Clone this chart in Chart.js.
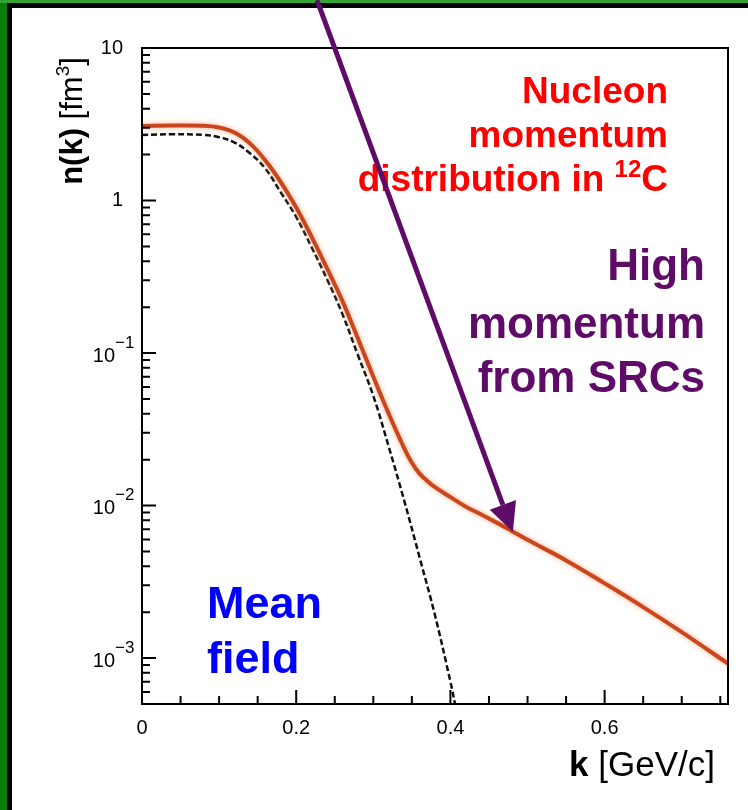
<!DOCTYPE html>
<html>
<head>
<meta charset="utf-8">
<title>n(k) 12C</title>
<script src="https://cdn.jsdelivr.net/npm/chart.js@4.4.0/dist/chart.umd.min.js"></script>
<style>
  html, body { margin: 0; padding: 0; background: #fff; }
  #grafico { display: block; }
</style>
</head>
<body>
<canvas id="grafico" width="748" height="810"></canvas>
<script>
// Distribuição total n(k) em 12C (linha laranja)
const kTotal = [0, 0.04, 0.08, 0.10, 0.12, 0.14, 0.16, 0.18, 0.20, 0.22, 0.24, 0.26, 0.28, 0.30,
                0.32, 0.34, 0.35, 0.36, 0.37, 0.38, 0.40, 0.42, 0.44, 0.46, 0.48, 0.50, 0.55,
                0.60, 0.65, 0.70, 0.76];
const nTotal = [3.08, 3.10, 3.09, 3.01, 2.79, 2.37, 1.83, 1.32, 0.90, 0.578, 0.359, 0.219, 0.1245, 0.070,
                0.0400, 0.0238, 0.0191, 0.0162, 0.0145, 0.0132, 0.01135, 0.00984, 0.00875, 0.00773,
                0.00679, 0.00596, 0.00437, 0.00309, 0.00216, 0.00148, 0.00092];

// Campo médio (tracejada)
const kCampo = [0, 0.04, 0.08, 0.10, 0.12, 0.14, 0.16, 0.18, 0.20, 0.22, 0.24, 0.26, 0.28, 0.30,
                0.32, 0.34, 0.36, 0.38, 0.40, 0.406];
const nCampo = [2.69, 2.72, 2.69, 2.60, 2.40, 2.04, 1.62, 1.13, 0.78, 0.494, 0.305, 0.180, 0.097, 0.0524,
                0.0243, 0.0108, 0.00457, 0.00191, 0.00070, 0.00050];

// Eixos
const kMax = 0.76;
const kMajor = [0, 0.2, 0.4, 0.6];
const kRotulos = ['0', '0.2', '0.4', '0.6'];
const nMin = 5e-4, nMax = 10;
const decadas = [1, 0, -1, -2, -3];
const rotulosDecada = ['10', '1', '10|−1', '10|−2', '10|−3'];

// Seta: da borda superior até a cauda de alto momento
const setaInicio = { k: 0.227, n: 20.6 };
const setaFim = { k: 0.481, n: 0.0067 };

const FONTE = "'Liberation Sans', Arial, Helvetica, sans-serif";
const ROXO = '#5e0c68';

function fonte(peso, tam) { return `${peso} ${tam}px ${FONTE}`; }

// desenha trechos de texto em sequência (para expoentes)
function textoComposto(ctx, trechos, x, y, alinhamento) {
  let total = 0;
  trechos.forEach(t => { ctx.font = t.f; total += ctx.measureText(t.t).width; });
  let px = x;
  if (alinhamento === 'right') px = x - total;
  else if (alinhamento === 'center') px = x - total / 2;
  ctx.textAlign = 'left';
  ctx.textBaseline = 'alphabetic';
  trechos.forEach(t => {
    ctx.font = t.f;
    ctx.fillText(t.t, px, y + (t.dy || 0));
    px += ctx.measureText(t.t).width;
  });
}

const moldura = {
  id: 'moldura',
  beforeDraw(chart) {
    const ctx = chart.ctx;
    ctx.save();
    ctx.fillStyle = '#fff';
    ctx.fillRect(0, 0, chart.width, chart.height);
    ctx.fillStyle = '#0c7c0c';
    ctx.fillRect(0, 0, 7, chart.height);
    ctx.fillStyle = '#34a532';
    ctx.fillRect(0, 0, chart.width, 3);
    ctx.fillStyle = '#000';
    ctx.fillRect(7, 3, 5, chart.height - 3);
    ctx.fillRect(7, 3, chart.width - 7, 5);
    ctx.restore();
  },
  afterDatasetsDraw(chart) {
    const ctx = chart.ctx;
    const a = chart.chartArea;
    const xs = chart.scales.x, ys = chart.scales.y;
    ctx.save();

    // caixa do gráfico
    ctx.strokeStyle = '#000';
    ctx.lineWidth = 2;
    ctx.strokeRect(a.left, a.top, a.right - a.left, a.bottom - a.top);

    // marcas do eixo y (log): décadas longas, 2..9 curtas
    ctx.beginPath();
    for (let e = -4; e <= 1; e++) {
      for (let m = 1; m <= 9; m++) {
        const v = m * Math.pow(10, e);
        if (v < nMin * 0.999 || v > nMax * 1.001) continue;
        const py = ys.getPixelForValue(v);
        ctx.moveTo(a.left, py);
        ctx.lineTo(a.left + (m === 1 ? 14 : 8), py);
      }
    }
    // marcas do eixo x a cada 0.05
    for (let i = 0; i * 0.05 <= kMax + 1e-9; i++) {
      const px = xs.getPixelForValue(i * 0.05);
      ctx.moveTo(px, a.bottom);
      ctx.lineTo(px, a.bottom - (i % 4 === 0 ? 14 : 8));
    }
    ctx.stroke();

    // rótulos do eixo y
    ctx.fillStyle = '#000';
    decadas.forEach((e, i) => {
      const py = ys.getPixelForValue(Math.pow(10, e));
      const partes = rotulosDecada[i].split('|');
      ctx.font = fonte('normal', 20);
      ctx.textAlign = 'right';
      ctx.textBaseline = 'middle';
      if (partes.length === 1) {
        ctx.fillText(partes[0], a.left - 19, py);
      } else {
        ctx.fillText(partes[0], a.left - 27, py + 3);
        ctx.font = fonte('normal', 17);
        ctx.textAlign = 'left';
        ctx.fillText(partes[1], a.left - 27, py - 10);
      }
    });

    // título do eixo y
    ctx.save();
    ctx.translate(82, 121);
    ctx.rotate(-Math.PI / 2);
    textoComposto(ctx, [
      { t: 'n(k)', f: fonte('bold', 31) },
      { t: ' [fm', f: fonte('normal', 31) },
      { t: '3', f: fonte('normal', 19), dy: -13 },
      { t: ']', f: fonte('normal', 31) }
    ], 0, 0, 'center');
    ctx.restore();

    // título do eixo x
    textoComposto(ctx, [
      { t: 'k', f: fonte('bold', 35) },
      { t: ' [GeV/c]', f: fonte('normal', 35) }
    ], 715, 776, 'right');

    // textos explicativos
    ctx.fillStyle = '#ff0000';
    ctx.font = fonte('bold', 37);
    ctx.textAlign = 'right';
    ctx.fillText('Nucleon', 668, 103);
    ctx.fillText('momentum', 668, 147);
    textoComposto(ctx, [
      { t: 'distribution in ', f: fonte('bold', 37) },
      { t: '12', f: fonte('bold', 24), dy: -14 },
      { t: 'C', f: fonte('bold', 37) }
    ], 668, 191, 'right');

    ctx.fillStyle = ROXO;
    ctx.font = fonte('bold', 44);
    ctx.textAlign = 'right';
    ctx.fillText('High', 705, 280);
    ctx.fillText('momentum', 705, 338);
    ctx.fillText('from SRCs', 705, 392);

    ctx.fillStyle = '#0000ff';
    ctx.font = fonte('bold', 45);
    ctx.textAlign = 'left';
    ctx.fillText('Mean', 207, 618);
    ctx.fillText('field', 207, 673);

    ctx.restore();
  },
  afterDraw(chart) {
    const ctx = chart.ctx;
    const xs = chart.scales.x, ys = chart.scales.y;
    const x0 = xs.getPixelForValue(setaInicio.k), y0 = ys.getPixelForValue(setaInicio.n);
    const x1 = xs.getPixelForValue(setaFim.k), y1 = ys.getPixelForValue(setaFim.n);
    const ang = Math.atan2(y1 - y0, x1 - x0);
    const comp = 29, meia = 14;
    const bx = x1 - comp * Math.cos(ang), by = y1 - comp * Math.sin(ang);
    ctx.save();
    ctx.strokeStyle = ROXO;
    ctx.fillStyle = ROXO;
    ctx.lineWidth = 5;
    ctx.beginPath();
    ctx.moveTo(x0, y0);
    ctx.lineTo(bx, by);
    ctx.stroke();
    ctx.beginPath();
    ctx.moveTo(x1, y1);
    ctx.lineTo(bx + meia * Math.sin(ang), by - meia * Math.cos(ang));
    ctx.lineTo(bx - meia * Math.sin(ang), by + meia * Math.cos(ang));
    ctx.closePath();
    ctx.fill();
    ctx.restore();
  }
};

// brilho suave em volta da curva total
const brilho = {
  id: 'brilho',
  beforeDatasetDraw(chart, args) {
    if (args.index !== 0) return;
    chart.ctx.save();
    chart.ctx.shadowColor = 'rgba(245, 150, 100, 0.8)';
    chart.ctx.shadowBlur = 5;
  },
  afterDatasetDraw(chart, args) {
    if (args.index !== 0) return;
    chart.ctx.restore();
  }
};

const ctx = document.getElementById('grafico').getContext('2d');
new Chart(ctx, {
  type: 'line',
  data: {
    datasets: [
      {
        label: 'n(k)',
        data: kTotal.map((k, i) => ({ x: k, y: nTotal[i] })),
        borderColor: '#c9461e',
        borderWidth: 4,
        pointRadius: 0,
        tension: 0.4,
        fill: false
      },
      {
        label: 'Mean field',
        data: kCampo.map((k, i) => ({ x: k, y: nCampo[i] })),
        borderColor: '#111',
        borderWidth: 2.5,
        borderDash: [6, 3],
        pointRadius: 0,
        tension: 0.4,
        fill: false
      }
    ]
  },
  options: {
    responsive: false,
    animation: false,
    devicePixelRatio: 1,
    layout: { padding: { left: 0, top: 48, right: 20, bottom: 0 } },
    plugins: {
      legend: { display: false },
      tooltip: { enabled: false }
    },
    scales: {
      x: {
        type: 'linear',
        min: 0,
        max: kMax,
        grid: { display: false, drawTicks: false },
        border: { display: false },
        afterFit: s => { s.height = 106; },
        ticks: {
          stepSize: 0.05,
          autoSkip: false,
          maxRotation: 0,
          padding: 12,
          color: '#000',
          font: { family: FONTE, size: 20 },
          callback: v => {
            const j = kMajor.findIndex(m => Math.abs(m - v) < 1e-6);
            return j >= 0 ? kRotulos[j] : '';
          }
        }
      },
      y: {
        type: 'logarithmic',
        min: nMin,
        max: nMax,
        grid: { display: false },
        border: { display: false },
        ticks: { display: false },
        afterFit: s => { s.width = 142; }
      }
    }
  },
  plugins: [moldura, brilho]
});
</script>
</body>
</html>
